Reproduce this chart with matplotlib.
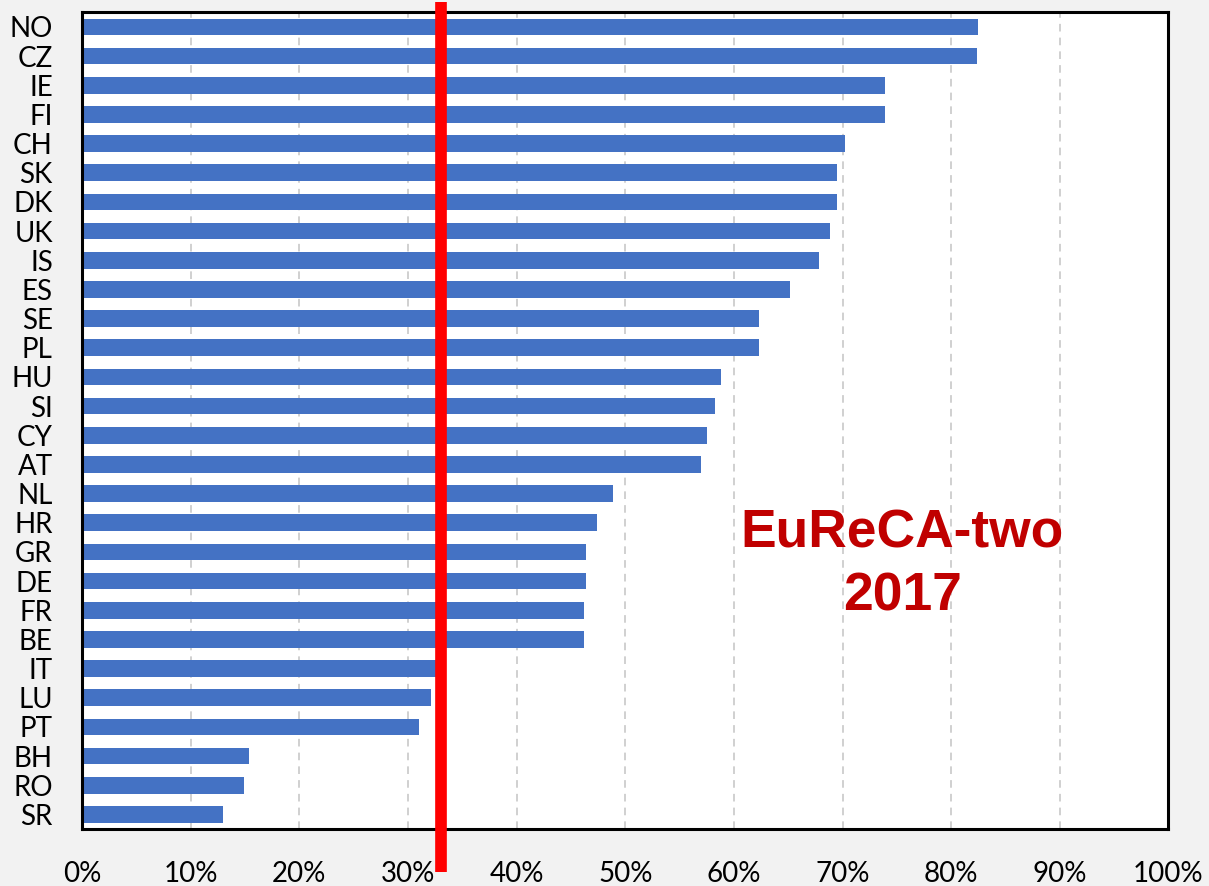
import matplotlib.pyplot as plt
from matplotlib.ticker import FuncFormatter

# share per country, top to bottom as in the chart
countries = ["NO", "CZ", "IE", "FI", "CH", "SK", "DK", "UK", "IS", "ES",
             "SE", "PL", "HU", "SI", "CY", "AT", "NL", "HR", "GR", "DE",
             "FR", "BE", "IT", "LU", "PT", "BH", "RO", "SR"]
values = [82.5, 82.4, 73.9, 73.9, 70.2, 69.5, 69.5, 68.8, 67.8, 65.2,
          62.3, 62.3, 58.8, 58.3, 57.5, 57.0, 48.9, 47.4, 46.4, 46.4,
          46.2, 46.2, 32.8, 32.1, 31.0, 15.4, 14.9, 13.0]
threshold = 33.0
label = "EuReCA-two\n2017"

plt.rcParams['font.family'] = ['Lato', 'DejaVu Sans']

fig = plt.figure(figsize=(12.09, 8.86), dpi=100, facecolor="#f2f2f2")
ax = fig.add_axes([0.0678, 0.0643, 0.8987, 0.9218])
ax.set_facecolor("white")

y = list(range(len(countries)))
ax.barh(y, values, height=0.57, color="#4472C4", zorder=2)

ax.set_xlim(0, 100)
ax.set_ylim(len(countries) - 0.5, -0.5)
ax.set_xticks(range(0, 101, 10))
ax.xaxis.set_major_formatter(FuncFormatter(lambda v, p: "%d%%" % v))
ax.set_yticks(y)
ax.set_yticklabels(countries)
ax.tick_params(axis="both", length=0, labelsize=20)
ax.tick_params(axis="y", pad=21)
ax.tick_params(axis="x", pad=23)

ax.grid(axis="x", linestyle=(0, (5, 4)), color="#c4c4c4", linewidth=1.1, zorder=1)
ax.set_axisbelow(True)
for s in ax.spines.values():
    s.set_linewidth(2.2)
    s.set_color("black")

# threshold line, runs past the frame
ax.axvline(threshold, ymin=-0.053, ymax=1.0126, color="#ff0000", linewidth=8.4,
           solid_capstyle="butt", clip_on=False, zorder=5)

ax.text(75.5, 18.45, label, ha="center", va="center", fontsize=38.4,
        fontweight="bold", color="#c00000", family="Liberation Sans",
        linespacing=1.33, zorder=6)

fig.savefig("out.png", dpi=100, facecolor=fig.get_facecolor())
